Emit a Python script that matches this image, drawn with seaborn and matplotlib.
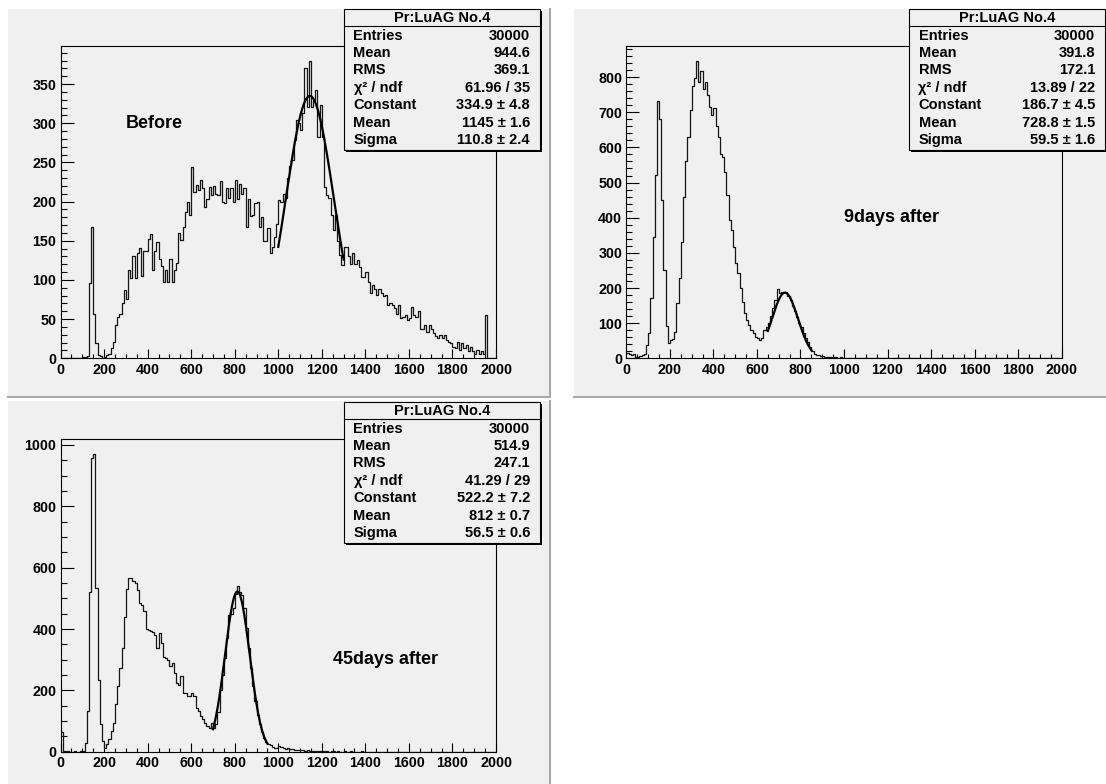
import numpy as np
import pandas as pd
import matplotlib
matplotlib.use("Agg")
import matplotlib.pyplot as plt
import seaborn as sns
from matplotlib.patches import Rectangle
from matplotlib.ticker import MultipleLocator

# 200 bins of width 10 from 0 to 2000
bin_edges = np.arange(0, 2001, 10)
bin_centers = bin_edges[:-1] + 5

# bin contents
before_counts = [
    0, 0, 0, 0, 0, 0, 0, 0, 0, 0,
    2, 2, 3, 96, 168, 57, 20, 4, 3, 1,
    2, 4, 5, 13, 21, 42, 53, 57, 70, 87,
    76, 113, 102, 130, 102, 134, 141, 105, 137, 137,
    152, 159, 113, 137, 148, 127, 118, 98, 113, 97,
    127, 98, 113, 122, 160, 151, 168, 187, 200, 183,
    244, 212, 221, 215, 228, 218, 193, 203, 219, 208,
    220, 210, 208, 226, 200, 198, 218, 205, 217, 200,
    227, 203, 222, 210, 218, 167, 203, 182, 183, 198,
    200, 167, 180, 150, 150, 166, 134, 142, 155, 172,
    202, 200, 210, 205, 230, 245, 253, 279, 304, 300,
    291, 313, 370, 321, 380, 321, 330, 342, 283, 323,
    283, 219, 208, 205, 183, 164, 183, 150, 132, 119,
    142, 142, 130, 121, 134, 121, 125, 117, 104, 104,
    110, 98, 83, 94, 89, 81, 89, 83, 79, 81,
    68, 70, 68, 64, 57, 68, 51, 53, 55, 49,
    51, 66, 55, 53, 60, 38, 38, 42, 34, 42,
    38, 32, 28, 26, 30, 26, 30, 23, 21, 19,
    15, 13, 21, 11, 19, 13, 17, 9, 14, 9,
    6, 11, 6, 9, 6, 55, 0, 0, 0, 0,
]

days9_counts = [
    15, 12, 8, 11, 5, 4, 6, 9, 13, 38,
    73, 171, 346, 522, 731, 681, 450, 250, 92, 43,
    52, 55, 76, 157, 228, 330, 460, 560, 631, 707,
    775, 797, 847, 787, 818, 765, 787, 749, 715, 693,
    712, 660, 631, 582, 572, 529, 465, 394, 365, 318,
    270, 242, 200, 161, 128, 109, 95, 81, 71, 62,
    57, 52, 57, 81, 90, 100, 120, 142, 165, 198,
    185, 190, 188, 190, 178, 165, 150, 135, 118, 100,
    88, 72, 58, 45, 32, 22, 12, 9, 8, 7,
    6, 5, 5, 4, 5, 3, 3, 2, 3, 2,
    2, 2, 1, 2, 1, 1, 1, 2, 1, 1,
    1, 0, 1, 1, 0, 0, 1, 0, 0, 0,
    0, 0, 0, 0, 0, 0, 0, 0, 0, 0,
    0, 0, 0, 0, 0, 0, 0, 0, 0, 0,
    0, 0, 0, 0, 0, 0, 0, 0, 0, 0,
    0, 0, 0, 0, 0, 0, 0, 0, 0, 0,
    0, 0, 0, 0, 0, 0, 0, 0, 0, 0,
    0, 0, 0, 0, 0, 0, 0, 0, 0, 0,
    0, 0, 0, 0, 0, 0, 0, 0, 0, 0,
    0, 0, 0, 0, 0, 0, 0, 0, 0, 0,
]

days45_counts = [
    63, 2, 1, 1, 0, 0, 1, 0, 0, 1,
    1, 29, 132, 522, 957, 970, 533, 235, 89, 35,
    13, 24, 40, 67, 94, 154, 214, 273, 338, 440,
    530, 565, 565, 555, 550, 528, 485, 479, 458, 401,
    397, 392, 389, 382, 338, 386, 353, 310, 305, 300,
    278, 289, 257, 224, 219, 246, 192, 192, 181, 181,
    192, 181, 143, 132, 116, 105, 94, 84, 76, 94,
    78, 89, 130, 200, 250, 304, 372, 446, 450, 470,
    515, 540, 520, 512, 470, 402, 337, 272, 215, 165,
    120, 90, 64, 45, 32, 24, 22, 16, 13, 11,
    20, 16, 13, 9, 11, 8, 9, 6, 7, 5,
    6, 4, 3, 4, 3, 2, 3, 2, 2, 1,
    2, 1, 1, 0, 1, 1, 0, 1, 0, 0,
    1, 0, 0, 1, 0, 0, 0, 0, 1, 0,
    0, 0, 0, 0, 0, 0, 0, 0, 0, 0,
    0, 0, 0, 0, 0, 0, 0, 0, 0, 0,
    0, 0, 0, 0, 0, 0, 0, 0, 0, 0,
    0, 0, 0, 0, 0, 0, 0, 0, 0, 0,
    0, 0, 0, 0, 0, 0, 0, 0, 0, 0,
    0, 0, 0, 0, 0, 0, 0, 0, 0, 0,
]

# stats box contents
stats_title = "Pr:LuAG No.4"
stat_names = ["Entries", "Mean", "RMS", "\u03c7\u00b2 / ndf", "Constant", "Mean", "Sigma"]
before_stats = ["30000", "944.6", "369.1", "61.96 / 35",
                "334.9 \u00b1 4.8", "1145 \u00b1 1.6", "110.8 \u00b1 2.4"]
days9_stats = ["30000", "391.8", "172.1", "13.89 / 22",
               "186.7 \u00b1 4.5", "728.8 \u00b1 1.5", "59.5 \u00b1 1.6"]
days45_stats = ["30000", "514.9", "247.1", "41.29 / 29",
                "522.2 \u00b1 7.2", "812 \u00b1 0.7", "56.5 \u00b1 0.6"]

# gaussian fit parameters (constant, mean, sigma) and drawn range
before_fit = [334.9, 1145, 110.8]
days9_fit = [186.7, 728.8, 59.5]
days45_fit = [522.2, 812, 56.5]
before_fit_range = [1000, 1300]
days9_fit_range = [650, 850]
days45_fit_range = [700, 950]

# panel labels
panel_labels = ["Before", "9days after", "45days after"]

plt.rcParams['font.family'] = ['Liberation Sans', 'DejaVu Sans']
plt.rcParams['font.weight'] = 'bold'

W, H = 1106, 784
pad_color = '#f0f0f0'
fig = plt.figure(figsize=(W / 100, H / 100), dpi=100)


def px_axes(x, y, w, h):
    return fig.add_axes([x / W, 1 - (y + h) / H, w / W, h / H])


bg = px_axes(0, 0, W, H)
bg.set_xlim(0, W)
bg.set_ylim(H, 0)
bg.axis('off')
bg.set_zorder(-1)

ov = px_axes(0, 0, W, H)
ov.set_xlim(0, W)
ov.set_ylim(H, 0)
ov.axis('off')
ov.patch.set_alpha(0)
ov.set_zorder(5)

# pixel boxes (x, y, w, h) of pad, frame and stats box for each panel
panels = [
    dict(pad=(8, 8.5, 542, 388.5), frame=(60.6, 45.7, 435.4, 312.6),
         box=(344, 9.3, 196, 140.7),
         counts=before_counts, stats=before_stats, fit=before_fit,
         fit_range=before_fit_range, label=panel_labels[0], label_pos=(300, 300),
         ymajor=50, yminor=10),
    dict(pad=(574, 8.5, 542, 388.5), frame=(626.4, 45.7, 435.2, 312.6),
         box=(909, 9.3, 196, 140.7),
         counts=days9_counts, stats=days9_stats, fit=days9_fit,
         fit_range=days9_fit_range, label=panel_labels[1], label_pos=(1000, 400),
         ymajor=100, yminor=20),
    dict(pad=(8, 400.5, 542, 389), frame=(60.6, 439.3, 435.4, 312.4),
         box=(344, 402.3, 196, 141),
         counts=days45_counts, stats=days45_stats, fit=days45_fit,
         fit_range=days45_fit_range, label=panel_labels[2], label_pos=(1250, 300),
         ymajor=200, yminor=50),
]

for p in panels:
    px, py, pw, ph = p['pad']
    # pad background with ROOT-like bevel
    bg.add_patch(Rectangle((px, py), pw, ph, fc=pad_color, ec='none'))
    bg.plot([px, px + pw, px + pw], [py + ph, py + ph, py], color='#a8a8a8', lw=1.5)

    ax = px_axes(*p['frame'])
    ax.set_facecolor(pad_color)
    hist_df = pd.DataFrame({'x': bin_centers, 'n': p['counts']})
    sns.histplot(data=hist_df, x='x', weights='n', binwidth=10, binrange=(0, 2000),
                 element='step', fill=False, color='#151515', linewidth=0.9, ax=ax)

    const, mean, sigma = p['fit']
    xs = np.linspace(p['fit_range'][0], p['fit_range'][1], 300)
    ys = const * np.exp(-0.5 * ((xs - mean) / sigma) ** 2)
    sns.lineplot(x=xs, y=ys, color='black', linewidth=1.6, ax=ax)

    ax.set_xlim(0, 2000)
    ax.set_ylim(0, 1.05 * max(p['counts']))
    ax.set_xlabel('')
    ax.set_ylabel('')
    ax.xaxis.set_major_locator(MultipleLocator(200))
    ax.xaxis.set_minor_locator(MultipleLocator(50))
    ax.yaxis.set_major_locator(MultipleLocator(p['ymajor']))
    ax.yaxis.set_minor_locator(MultipleLocator(p['yminor']))
    ax.tick_params(which='both', direction='in', top=False, right=False,
                   color='black', width=0.8, labelsize=10.3)
    ax.tick_params(axis='x', which='major', length=6.5, pad=3.2)
    ax.tick_params(axis='x', which='minor', length=3.2)
    ax.tick_params(axis='y', which='major', length=9.5, pad=3)
    ax.tick_params(axis='y', which='minor', length=4.5)
    for s in ax.spines.values():
        s.set_linewidth(0.8)
        s.set_color('black')

    lx, ly = p['label_pos']
    ax.text(lx, ly, p['label'], fontsize=13, ha='left', va='center')

    # stats box
    bx, by, bw, bh = p['box']
    ov.add_patch(Rectangle((bx + 2, by + 2), bw, bh, fc='black', ec='none'))
    ov.add_patch(Rectangle((bx, by), bw, bh, fc=pad_color, ec='black', lw=0.8))
    ov.plot([bx, bx + bw], [by + 16.7, by + 16.7], color='black', lw=0.8)
    ov.text(bx + bw / 2, by + 8.6, stats_title, ha='center', va='center', fontsize=10.5)
    for k, (name, val) in enumerate(zip(stat_names, p['stats'])):
        yy = by + 26.2 + 17.4 * k
        ov.text(bx + 9.5, yy, name, ha='left', va='center', fontsize=10.5)
        ov.text(bx + 186, yy, val, ha='right', va='center', fontsize=10.5)

fig.savefig('out.png', dpi=100)
